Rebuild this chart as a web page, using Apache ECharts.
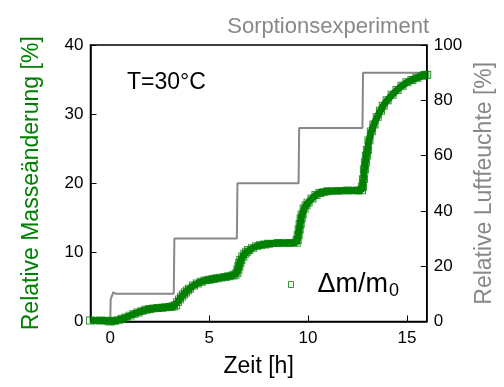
<!DOCTYPE html>
<html>
<head>
<meta charset="utf-8">
<script src="https://cdn.jsdelivr.net/npm/echarts@6/dist/echarts.min.js"></script>
<style>html,body{margin:0;padding:0;background:#fff}#c{width:504px;height:387px}</style>
</head>
<body>
<div id="c"></div>
<script>
// Relative humidity set-point (gray step line), right axis
var rhTime = [-1, 0, 0.02, 0.1, 0.15, 0.3, 3.21, 3.24, 6.4, 6.43, 9.52, 9.55, 12.75, 12.78, 16];
var rhValue = [0, 0, 8, 8.5, 10.5, 10, 10, 30, 30, 50, 50, 70, 70, 90, 90];

// Relative mass change (green markers), left axis
var massTime = [-1.0, -0.5, -0.1, 0.0, 0.2, 0.4, 0.6, 0.8, 1.0, 1.2, 1.4, 1.6, 1.8, 2.0, 2.2, 2.4, 2.6, 2.8, 3.0, 3.1, 3.2,
  3.3, 3.4, 3.5, 3.6, 3.7, 3.8, 3.9, 4.0, 4.2, 4.4, 4.6, 4.8, 5.0, 5.2, 5.4, 5.6, 5.8, 6.0, 6.2, 6.3,
  6.4, 6.45, 6.5, 6.55, 6.6, 6.7, 6.8, 6.9, 7.0, 7.2, 7.4, 7.6, 7.8, 8.0, 8.5, 9.0, 9.4,
  9.45, 9.5, 9.55, 9.6, 9.65, 9.7, 9.8, 9.9, 10.0, 10.2, 10.4, 10.6, 10.8, 11.0, 11.5, 12.0, 12.5, 12.7,
  12.75, 12.8, 12.85, 12.9, 12.95, 13.0, 13.08, 13.2, 13.33, 13.5, 13.66, 13.8, 14.0, 14.25, 14.5, 14.75,
  15.0, 15.25, 15.5, 15.75, 15.9, 16.0];
var massValue = [0.15, 0.15, 0.1, 0.0, 0.05, 0.2, 0.4, 0.6, 0.85, 1.1, 1.3, 1.5, 1.7, 1.8, 1.9, 1.95, 2.0, 2.05, 2.1, 2.15, 2.2,
  2.35, 2.8, 3.2, 3.6, 3.9, 4.2, 4.5, 4.75, 5.2, 5.5, 5.75, 5.95, 6.05, 6.15, 6.25, 6.35, 6.45, 6.55, 6.65, 6.75,
  7.0, 7.5, 8.0, 8.5, 8.9, 9.4, 9.8, 10.1, 10.35, 10.65, 10.9, 11.05, 11.15, 11.25, 11.35, 11.35, 11.4,
  11.8, 12.5, 13.3, 14.1, 14.9, 15.5, 16.3, 16.8, 17.2, 17.8, 18.3, 18.6, 18.75, 18.85, 18.9, 18.95, 18.95, 19.0,
  19.5, 20.6, 22.0, 23.0, 24.0, 24.8, 26.2, 27.5, 28.5, 29.6, 30.5, 31.2, 32.0, 32.8, 33.5, 34.1,
  34.6, 34.95, 35.25, 35.5, 35.65, 35.7];

var xTicks = [0, 5, 10, 15];

var GREEN = '#008000', GRAY = '#888888';
var FONT = 'Liberation Sans, Arial, sans-serif';

function pairs(a, b) { return a.map(function (v, i) { return [v, b[i]]; }); }

var chart = echarts.init(document.getElementById('c'), null, { renderer: 'canvas' });
chart.setOption({
  animation: false,
  textStyle: { fontFamily: FONT },
  title: {
    text: 'Sorptionsexperiment', right: 70, top: 11,
    textStyle: { fontSize: 22, fontWeight: 'normal', color: GRAY, fontFamily: FONT }
  },
  grid: { left: 90.5, right: 70, top: 45, bottom: 65.5, show: true, borderColor: '#000', borderWidth: 1.5, backgroundColor: 'transparent' },
  legend: {
    left: 283, top: 266, itemWidth: 5, itemHeight: 6,
    data: [{ name: 'mass', icon: 'rect', itemStyle: { color: '#fff', borderColor: GREEN, borderWidth: 1 } }],
    formatter: function () { return '{a|Δm/m}{b|0}'; },
    textStyle: {
      rich: {
        a: { fontSize: 27, color: '#000', fontFamily: FONT, padding: [0, 0, 0, 19] },
        b: { fontSize: 18, color: '#000', fontFamily: FONT, verticalAlign: 'bottom', padding: [14, 0, 0, 1] }
      }
    }
  },
  xAxis: {
    type: 'value', min: -1, max: 16,
    name: 'Zeit [h]', nameLocation: 'middle', nameGap: 34,
    nameTextStyle: { fontSize: 23, color: '#000', fontFamily: FONT },
    axisLine: { onZero: false, lineStyle: { color: '#000', width: 1.5 } },
    axisTick: { inside: true, length: 6, lineStyle: { color: '#000' }, customValues: xTicks },
    axisLabel: { fontSize: 17, color: '#000', margin: 8, customValues: xTicks },
    splitLine: { show: false }
  },
  yAxis: [{
    type: 'value', min: 0, max: 40, interval: 10, position: 'left',
    name: 'Relative Masseänderung [%]', nameLocation: 'middle', nameGap: 47,
    nameTextStyle: { fontSize: 23, color: GREEN, fontFamily: FONT },
    axisLine: { show: true, onZero: false, lineStyle: { color: '#000', width: 1.5 } },
    axisTick: { show: true, inside: true, length: 6, lineStyle: { color: '#000' } },
    axisLabel: { fontSize: 17, color: '#000', margin: 7 },
    splitLine: { show: false }
  }, {
    type: 'value', min: 0, max: 100, interval: 20, position: 'right',
    name: 'Relative Luftfeuchte [%]', nameLocation: 'middle', nameGap: 43,
    nameTextStyle: { fontSize: 23, color: GRAY, fontFamily: FONT },
    axisLine: { show: true, onZero: false, lineStyle: { color: '#000', width: 1.5 } },
    axisTick: { show: true, inside: true, length: 6, lineStyle: { color: '#000' } },
    axisLabel: { fontSize: 17, color: '#000', margin: 7 },
    splitLine: { show: false }
  }],
  graphic: [{
    type: 'text', left: 127, top: 71,
    style: { text: 'T=30°C', fontSize: 23, fill: '#000', fontFamily: FONT }
  }],
  series: [{
    name: 'rh', type: 'line', yAxisIndex: 1, data: pairs(rhTime, rhValue),
    showSymbol: false, lineStyle: { color: GRAY, width: 2 }, z: 2
  }, {
    name: 'massLine', type: 'line', yAxisIndex: 0, data: pairs(massTime, massValue),
    showSymbol: false, lineStyle: { color: GREEN, width: 7 }, z: 3
  }, {
    name: 'mass', type: 'scatter', yAxisIndex: 0, data: pairs(massTime, massValue),
    symbol: 'rect', symbolSize: [8, 7],
    itemStyle: { color: 'transparent', borderColor: GREEN, borderWidth: 1 }, z: 4
  }]
});
</script>
</body>
</html>
